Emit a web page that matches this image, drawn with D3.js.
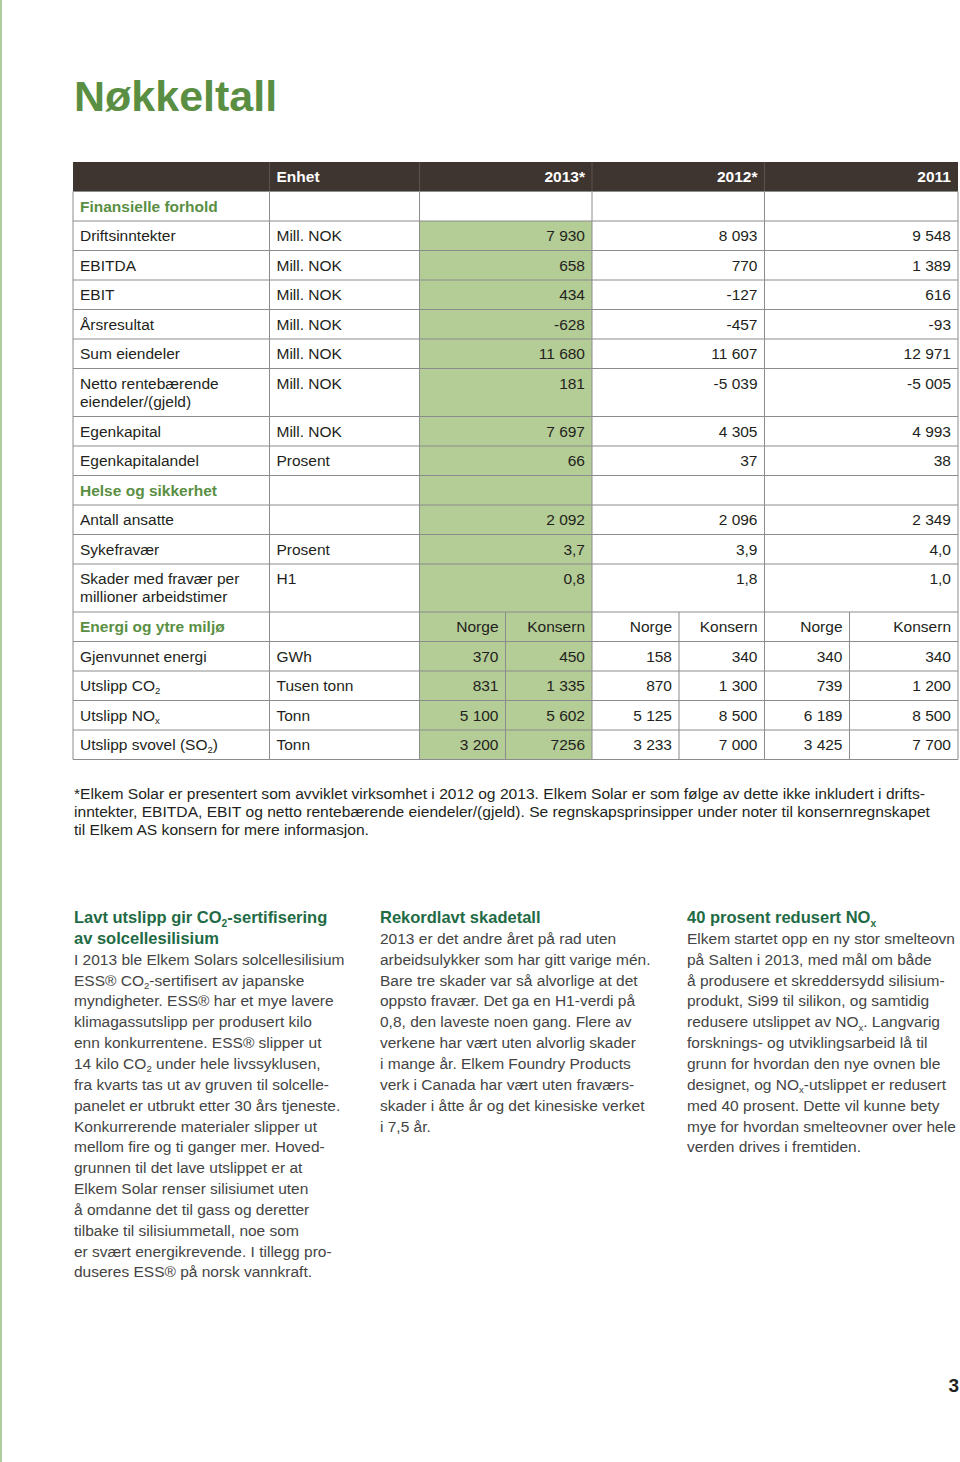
<!DOCTYPE html>
<html>
<head>
<meta charset="utf-8">
<script src="https://cdn.jsdelivr.net/npm/d3@7"></script>
<style>
  body { margin: 0; background: #fff; }
  svg { display: block; font-family: "Liberation Sans", Arial, Helvetica, sans-serif; }
</style>
</head>
<body>
<svg id="page" width="960" height="1462"></svg>
<script>
// ---- data ----
const years = ["2013*", "2012*", "2011"];

const finLabels = ["Driftsinntekter", "EBITDA", "EBIT", "Årsresultat", "Sum eiendeler",
  "Netto rentebærende|eiendeler/(gjeld)", "Egenkapital", "Egenkapitalandel"];
const finUnits = ["Mill. NOK", "Mill. NOK", "Mill. NOK", "Mill. NOK", "Mill. NOK", "Mill. NOK", "Mill. NOK", "Prosent"];
const fin2013 = ["7 930", "658", "434", "-628", "11 680", "181", "7 697", "66"];
const fin2012 = ["8 093", "770", "-127", "-457", "11 607", "-5 039", "4 305", "37"];
const fin2011 = ["9 548", "1 389", "616", "-93", "12 971", "-5 005", "4 993", "38"];

const hmsLabels = ["Antall ansatte", "Sykefravær", "Skader med fravær per|millioner arbeidstimer"];
const hmsUnits = ["", "Prosent", "H1"];
const hms2013 = ["2 092", "3,7", "0,8"];
const hms2012 = ["2 096", "3,9", "1,8"];
const hms2011 = ["2 349", "4,0", "1,0"];

const envLabels = ["Gjenvunnet energi", "Utslipp CO_2", "Utslipp NO_x", "Utslipp svovel (SO_2)"];
const envUnits = ["GWh", "Tusen tonn", "Tonn", "Tonn"];
const envSub = ["Norge", "Konsern"];
const env2013Norge = ["370", "831", "5 100", "3 200"];
const env2013Konsern = ["450", "1 335", "5 602", "7256"];
const env2012Norge = ["158", "870", "5 125", "3 233"];
const env2012Konsern = ["340", "1 300", "8 500", "7 000"];
const env2011Norge = ["340", "739", "6 189", "3 425"];
const env2011Konsern = ["340", "1 200", "8 500", "7 700"];

const sections = ["Finansielle forhold", "Helse og sikkerhet", "Energi og ytre miljø"];

const footnote = [
  "*Elkem Solar er presentert som avviklet virksomhet i 2012 og 2013. Elkem Solar er som følge av dette ikke inkludert i drifts-",
  "inntekter, EBITDA, EBIT og netto rentebærende eiendeler/(gjeld). Se regnskapsprinsipper under noter til konsernregnskapet",
  "til Elkem AS konsern for mere informasjon."
];

const articles = [
  { head: ["Lavt utslipp gir CO_2-sertifisering", "av solcellesilisium"],
    body: ["I 2013 ble Elkem Solars solcellesilisium",
      "ESS® CO_2-sertifisert av japanske",
      "myndigheter. ESS® har et mye lavere",
      "klimagassutslipp per produsert kilo",
      "enn konkurrentene. ESS® slipper ut",
      "14 kilo CO_2 under hele livssyklusen,",
      "fra kvarts tas ut av gruven til solcelle-",
      "panelet er utbrukt etter 30 års tjeneste.",
      "Konkurrerende materialer slipper ut",
      "mellom fire og ti ganger mer. Hoved-",
      "grunnen til det lave utslippet er at",
      "Elkem Solar renser silisiumet uten",
      "å omdanne det til gass og deretter",
      "tilbake til silisiummetall, noe som",
      "er svært energikrevende. I tillegg pro-",
      "duseres ESS® på norsk vannkraft."] },
  { head: ["Rekordlavt skadetall"],
    body: ["2013 er det andre året på rad uten",
      "arbeidsulykker som har gitt varige mén.",
      "Bare tre skader var så alvorlige at det",
      "oppsto fravær. Det ga en H1-verdi på",
      "0,8, den laveste noen gang. Flere av",
      "verkene har vært uten alvorlig skader",
      "i mange år. Elkem Foundry Products",
      "verk i Canada har vært uten fraværs-",
      "skader i åtte år og det kinesiske verket",
      "i 7,5 år."] },
  { head: ["40 prosent redusert NO_x"],
    body: ["Elkem startet opp en ny stor smelteovn",
      "på Salten i 2013, med mål om både",
      "å produsere et skreddersydd silisium-",
      "produkt, Si99 til silikon, og samtidig",
      "redusere utslippet av NO_x. Langvarig",
      "forsknings- og utviklingsarbeid lå til",
      "grunn for hvordan den nye ovnen ble",
      "designet, og NO_x-utslippet er redusert",
      "med 40 prosent. Dette vil kunne bety",
      "mye for hvordan smelteovner over hele",
      "verden drives i fremtiden."] }
];

// ---- layout ----
const green = "#5a8f43", darkGreen = "#1f6b45", fill2013 = "#b4cc95",
      headBg = "#3e3430", gridCol = "#8c8c8c", ink = "#231f20", bodyInk = "#444";
const fs = 15.5;
const rowH = 29.5, lineH = 18;
const tableTop = 162;
const colEdges = [73, 269.5, 419.5, 592, 764.5, 958];
const subEdges = [505.5, 679, 849.5];
const pad = 7;

// build the rows
const rows = [{ type: "header" }, { type: "section", label: sections[0] }];
finLabels.forEach((l, i) => rows.push({ type: "data", label: l, unit: finUnits[i], vals: [fin2013[i], fin2012[i], fin2011[i]] }));
rows.push({ type: "section", label: sections[1] });
hmsLabels.forEach((l, i) => rows.push({ type: "data", label: l, unit: hmsUnits[i], vals: [hms2013[i], hms2012[i], hms2011[i]] }));
rows.push({ type: "section", label: sections[2], sub: [envSub, envSub, envSub] });
envLabels.forEach((l, i) => rows.push({ type: "data", label: l, unit: envUnits[i],
  sub: [[env2013Norge[i], env2013Konsern[i]], [env2012Norge[i], env2012Konsern[i]], [env2011Norge[i], env2011Konsern[i]]] }));

rows.forEach(r => { r.lines = r.label ? r.label.split("|") : [""]; r.h = r.lines.length > 1 ? rowH + lineH + 0.5 : rowH; });
const ys = [tableTop, ...d3.cumsum(rows, r => r.h).map(v => tableTop + v)];
rows.forEach((r, i) => { r.y = ys[i]; });
const tableBottom = ys[ys.length - 1];
const envStart = rows.find(r => r.sub && r.type === "section").y;

// text with _x subscripts (shift back on the following piece)
function rich(sel, str, size) {
  const parts = str.split(/_(\w)/);
  const shift = size * 0.22;
  let back = false;
  parts.forEach((p, i) => {
    if (!p) return;
    const ts = sel.append("tspan").text(p);
    if (i % 2 === 1) {
      ts.attr("font-size", size * 0.62).attr("dy", shift);
      back = true;
    } else if (back) {
      ts.attr("dy", -shift);
      back = false;
    }
  });
}

const svg = d3.select("#page");

// left margin line
svg.append("rect").attr("x", 0).attr("y", 0).attr("width", 2).attr("height", 1462).attr("fill", "#aecb9c");

// title
svg.append("text").attr("x", 74).attr("y", 111).attr("font-size", 43).attr("font-weight", "bold")
  .attr("fill", green).text("Nøkkeltall");

// ---- table ----
const table = svg.append("g");

// 2013 column fill
const firstData = rows[2].y;
table.append("rect").attr("x", colEdges[2]).attr("y", firstData)
  .attr("width", colEdges[3] - colEdges[2]).attr("height", tableBottom - firstData).attr("fill", fill2013);

// header
table.append("rect").attr("x", colEdges[0]).attr("y", tableTop)
  .attr("width", colEdges[5] - colEdges[0]).attr("height", rowH).attr("fill", headBg);
table.selectAll("line.hv").data(colEdges.slice(1, 5)).join("line").attr("class", "hv")
  .attr("x1", d => d).attr("x2", d => d).attr("y1", tableTop).attr("y2", tableTop + rowH)
  .attr("stroke", "#5c514c").attr("stroke-width", 1);

// horizontal grid
table.selectAll("line.h").data(ys.slice(1)).join("line").attr("class", "h")
  .attr("x1", colEdges[0]).attr("x2", colEdges[5]).attr("y1", d => d).attr("y2", d => d)
  .attr("stroke", gridCol).attr("stroke-width", 1);
// vertical grid
table.selectAll("line.v").data(colEdges).join("line").attr("class", "v")
  .attr("x1", d => d).attr("x2", d => d).attr("y1", tableTop + rowH).attr("y2", tableBottom)
  .attr("stroke", gridCol).attr("stroke-width", 1);
table.selectAll("line.sv").data(subEdges).join("line").attr("class", "sv")
  .attr("x1", d => d).attr("x2", d => d).attr("y1", envStart).attr("y2", tableBottom)
  .attr("stroke", gridCol).attr("stroke-width", 1);

// header text
const head = table.append("g").attr("font-size", fs).attr("font-weight", "bold").attr("fill", "#fff");
head.append("text").attr("x", colEdges[1] + pad).attr("y", tableTop + 20).text("Enhet");
head.selectAll("text.yr").data(years).join("text").attr("class", "yr")
  .attr("x", (d, i) => colEdges[i + 3] - pad).attr("y", tableTop + 20)
  .attr("text-anchor", "end").text(d => d);

// body rows
const body = table.append("g").attr("font-size", fs).attr("fill", ink);
rows.filter(r => r.type !== "header").forEach(r => {
  const base = r.y + 20;
  r.lines.forEach((ln, k) => {
    if (!ln) return;
    const t = body.append("text").attr("x", colEdges[0] + pad).attr("y", base + k * lineH);
    if (r.type === "section") t.attr("font-weight", "bold").attr("fill", green);
    rich(t, ln, fs);
  });
  if (r.unit) body.append("text").attr("x", colEdges[1] + pad).attr("y", base).text(r.unit);
  if (r.vals) r.vals.forEach((v, c) => {
    body.append("text").attr("x", colEdges[c + 3] - pad).attr("y", base).attr("text-anchor", "end").text(v);
  });
  if (r.sub) r.sub.forEach((pair, c) => {
    body.append("text").attr("x", subEdges[c] - pad).attr("y", base).attr("text-anchor", "end").text(pair[0]);
    body.append("text").attr("x", colEdges[c + 3] - pad).attr("y", base).attr("text-anchor", "end").text(pair[1]);
  });
});

// ---- footnote ----
const fn = svg.append("g").attr("font-size", 15).attr("fill", ink);
const fnLines = fn.selectAll("text").data(footnote).join("text")
  .attr("x", 0).attr("y", (d, i) => i * 18.2).text(d => d);
const w0 = fnLines.nodes()[0].getComputedTextLength();
const k = 852 / w0;
fn.attr("transform", `translate(74,799) scale(${k},1)`);

// ---- articles ----
const colX = [74, 380, 687];
articles.forEach((a, i) => {
  const g = svg.append("g").attr("transform", `translate(${colX[i]},0)`);
  a.head.forEach((h, j) => {
    const t = g.append("text").attr("y", 923 + j * 20.85).attr("font-size", 16.5)
      .attr("font-weight", "bold").attr("fill", darkGreen);
    rich(t, h, 16.5);
  });
  const start = 923 + a.head.length * 20.85;
  a.body.forEach((b, j) => {
    const t = g.append("text").attr("y", start + j * 20.85).attr("font-size", 15.5).attr("fill", bodyInk);
    rich(t, b, 15.5);
  });
});

// page number
svg.append("text").attr("x", 959).attr("y", 1392).attr("text-anchor", "end")
  .attr("font-size", 19).attr("font-weight", "bold").attr("fill", ink).text("3");
</script>
</body>
</html>
